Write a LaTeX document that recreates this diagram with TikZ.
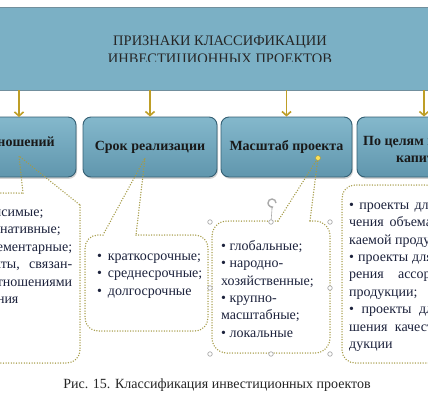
\documentclass[tikz,border=0pt]{standalone}
\usepackage{fontspec}
\setmainfont{Liberation Serif}
\usetikzlibrary{arrows.meta,shadows}
\definecolor{bannerfill}{RGB}{123,176,197}
\definecolor{boxtop}{RGB}{132,184,204}
\definecolor{boxbot}{RGB}{96,150,173}
\definecolor{boxline}{RGB}{52,95,115}
\definecolor{arrowgold}{RGB}{190,158,38}
\definecolor{dotcol}{RGB}{165,155,70}
\definecolor{txtnavy}{RGB}{28,34,60}
\definecolor{handlegray}{RGB}{170,170,170}
\definecolor{handleyellow}{RGB}{250,225,90}
\begin{document}
\begin{tikzpicture}[x=1pt,y=-1pt,
  boxst/.style={draw=boxline, line width=0.9pt, rounded corners=8pt, top color=boxtop, bottom color=boxbot,
    minimum height=60pt, inner sep=0pt, font=\bfseries\fontsize{14}{16}\selectfont, text=black!90,
    drop shadow={opacity=0.35,shadow xshift=1pt,shadow yshift=-1.8pt}},
  lbl/.style={font=\bfseries\fontsize{14}{17}\selectfont, text=black!90, inner sep=0pt},
  arr/.style={draw=arrowgold, line width=1.6pt, -{Straight Barb[length=4pt,width=9pt]}},
  callout/.style={draw=dotcol, line width=1.5pt, dash pattern=on 0pt off 2.6pt, line cap=round, line join=round},
  body/.style={font=\fontsize{14}{17.4}\selectfont, text=txtnavy, align=left, inner sep=0pt, anchor=north west},
  handle/.style={circle, draw=handlegray, fill=white, line width=0.7pt, minimum size=4.5pt, inner sep=0pt}
]
\useasboundingbox (0,0) rectangle (428,400);
\clip (0,0) rectangle (428,400);
\fill[white] (0,0) rectangle (428,400);

% banner
\node[draw=boxline!70, fill=bannerfill, minimum width=440pt, minimum height=83pt, inner sep=0pt] (banner) at (214,48.5) {};
\node[font=\fontsize{14.5}{18}\selectfont, text=black!85, anchor=base, inner sep=0pt] (t1) at (220,45) {ПРИЗНАКИ КЛАССИФИКАЦИИ};
\begin{scope}
\clip (0,0) rectangle (428,61.5);
\node[font=\fontsize{14.5}{18}\selectfont, text=black!85, anchor=base, inner sep=0pt] (t2) at (220,63) {ИНВЕСТИЦИОННЫХ ПРОЕКТОВ};
\end{scope}

% boxes
\node[boxst, minimum width=134pt] (b1) at (9,147) {};
\node[lbl, anchor=base east] (b1t) at (55,146.5) {По типу отношений};
\node[boxst, minimum width=134pt] (b2) at (150,147) {Срок реализации};
\node[boxst, minimum width=131pt] (b3) at (286.5,147) {Масштаб проекта};
\node[boxst, minimum width=134pt] (b4) at (424,147) {};
\node[lbl, align=center, anchor=west] (b4t) at (363,149) {По целям вложения\\капитала};

% arrows
\coordinate (a1) at (19,117);
\draw[arr] (banner.south -| a1) -- (a1);
\draw[arr] (banner.south -| b2.north) -- (b2.north);
\draw[arr] (banner.south -| b3.north) -- (b3.north);
\draw[arr] (banner.south -| b4.north) -- (b4.north);

% callout 1
\coordinate (ap1) at (19,156);
\draw[callout] (-20,193) -- (23,193);
\draw[callout] (23,193) -- (ap1) -- (80,205);
\draw[callout, rounded corners=13pt] (80,205) -- (80,363) -- (-20,363);
\node[body] (c1) at (-47,209.7) {• независимые;\\• альтернативные;\\\makebox[119pt][s]{• комплементарные;}\\\makebox[119pt][s]{• проекты, связан-}\\\makebox[119pt][s]{ные отношениями}\\замещения};

% callout 2
\coordinate (ap2) at (145,158);
\draw[callout, rounded corners=13pt] (136,235) -- (208,235) -- (208,331) -- (85,331) -- (85,235) -- (103,235);
\draw[callout] (103,235) -- (ap2) -- (136,235);
\node[body] (c2) at (97,253.5) {•\ \,краткосрочные;\\•\ \,среднесрочные;\\•\ \,долгосрочные};

% callout 3
\coordinate (ap3) at (318,158);
\draw[handlegray, line width=0.6pt] (272,209) -- (271,222);
\draw[callout, rounded corners=15pt] (310,221) -- (330,221) -- (330,353) -- (212,353) -- (212,221) -- (278,221);
\draw[callout] (278,221) -- (ap3) -- (310,221);
\node[body] (c3) at (221,240) {• глобальные;\\• народно-\\хозяйственные;\\• крупно-\\масштабные;\\• локальные};
\node[circle, fill=handleyellow, draw=dotcol, line width=0.5pt, minimum size=5pt, inner sep=0pt] (yh) at (ap3) {};
\node[handle] (h1) at (210,222) {};
\node[handle] (h2) at (271,222) {};
\node[handle] (h3) at (330,222) {};
\node[handle] (h4) at (210,288) {};
\node[handle] (h5) at (330,288) {};
\node[handle] (h6) at (210,354) {};
\node[handle] (h7) at (271,354) {};
\node[handle] (h8) at (330,354) {};
\draw[handlegray, line width=1.4pt, -{Stealth[length=2.5pt,width=4pt]}] (276,203) arc[start angle=0, end angle=290, radius=4pt];

% callout 4
\draw[callout, rounded corners=13pt] (440,185) -- (342,185) -- (342,363) -- (440,363);
\node[body] (c4) at (349,202.5) {\makebox[130pt][s]{• проекты для увели-}\\\makebox[130pt][s]{чения объема выпус-}\\каемой продукции;\\\makebox[130pt][s]{• проекты для расши-}\\\makebox[130pt][s]{рения ассортимента}\\продукции;\\\makebox[130pt][s]{• проекты для улуч-}\\\makebox[130pt][s]{шения качества про-}\\дукции};

% caption
\node[font=\fontsize{14}{16}\selectfont, text=black!85, anchor=base, inner sep=0pt] (cap) at (217,388.5) {Рис. 15. Классификация инвестиционных проектов};
\end{tikzpicture}
\end{document}
